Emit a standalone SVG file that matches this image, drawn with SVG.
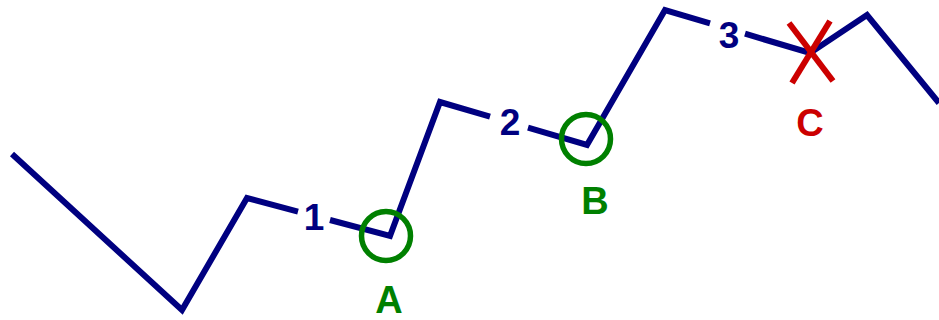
<svg xmlns="http://www.w3.org/2000/svg" width="939" height="320" viewBox="0 0 939 320">
<style>
.ln{fill:none;stroke:#000080;stroke-width:6;stroke-linejoin:miter;stroke-linecap:butt}
.num{font-family:"Liberation Sans",Arial,sans-serif;font-weight:bold;font-size:37px;fill:#000080;text-anchor:middle}
.lbl{font-family:"Liberation Sans",Arial,sans-serif;font-weight:bold;font-size:38px;text-anchor:middle}
.ok{fill:none;stroke:#008000;stroke-width:5.5}
</style>
<rect width="939" height="320" fill="#ffffff"/>
<g id="connectors">
<polyline class="ln" points="12,154 182,310 247,198 298,211.6"/>
<polyline class="ln" points="330,220 390,236 440,102 490,116.6"/>
<polyline class="ln" points="528,127.7 587,145 665,10 710,23.3"/>
<polyline class="ln" points="745,33.7 810,53 867,15 939,103"/>
</g>
<g id="label-1"><text class="num" x="314" y="230">1</text></g>
<g id="label-2"><text class="num" x="510" y="135">2</text></g>
<g id="label-3"><text class="num" x="729" y="48">3</text></g>
<g id="node-A">
<circle class="ok" cx="386" cy="236" r="24.5"/>
<text class="lbl" x="389" y="313" fill="#008000">A</text>
</g>
<g id="node-B">
<circle class="ok" cx="586" cy="139" r="24.5"/>
<text class="lbl" x="595" y="214" fill="#008000">B</text>
</g>
<g id="node-C">
<g stroke="#cc0000" stroke-width="6">
<line x1="789" y1="23" x2="833" y2="81"/>
<line x1="830" y1="21" x2="792" y2="83"/>
</g>
<text class="lbl" x="810" y="136" fill="#cc0000">C</text>
</g>
</svg>
